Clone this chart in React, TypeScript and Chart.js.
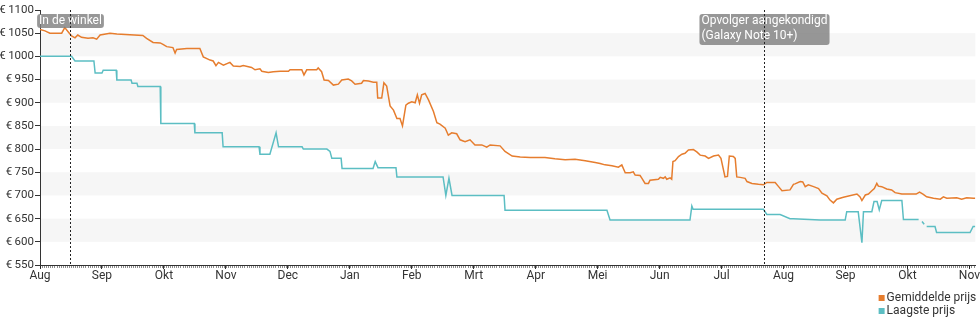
import { useEffect, useRef } from 'react';
import { Chart, registerables } from 'chart.js';

Chart.register(...registerables);

// x = months since 1 Aug 2018 (each month is an equal step on the axis)
const monthLabels = ['Aug', 'Sep', 'Okt', 'Nov', 'Dec', 'Jan', 'Feb', 'Mrt', 'Apr', 'Mei', 'Jun', 'Jul', 'Aug', 'Sep', 'Okt', 'Nov'];
const xMin = 0;
const xMax = 15.095;
const yMin = 550;
const yMax = 1100;
const yStep = 50;

const seriesNames = ['Gemiddelde prijs', 'Laagste prijs'];
const seriesColors = ['#e67d2e', '#5cbec3'];

const averagePrice: [number, number | null][] = [
  [0, 1058], [0.08, 1055], [0.16, 1050], [0.35, 1050], [0.4, 1062], [0.46, 1052], [0.51, 1044], [0.565, 1040],
  [0.61, 1046], [0.67, 1041], [0.775, 1039], [0.855, 1040], [0.915, 1037], [0.97, 1046], [1.13, 1050], [1.24, 1048],
  [1.66, 1045], [1.72, 1039], [1.825, 1030], [1.94, 1029], [1.985, 1026], [2.045, 1021], [2.145, 1019], [2.18, 1007],
  [2.205, 1015], [2.37, 1017], [2.58, 1017], [2.635, 999], [2.745, 992], [2.795, 990], [2.84, 980], [2.88, 987],
  [2.96, 981], [3.065, 987], [3.12, 979], [3.23, 978], [3.28, 980], [3.415, 976], [3.47, 971], [3.55, 973],
  [3.58, 968], [3.685, 965], [3.765, 967], [3.875, 968], [4.01, 968], [4.035, 971], [4.225, 971], [4.26, 960],
  [4.305, 971], [4.465, 971], [4.49, 975], [4.545, 967], [4.585, 949], [4.655, 948], [4.735, 938], [4.815, 940],
  [4.87, 949], [4.975, 951], [5.03, 947], [5.085, 940], [5.19, 942], [5.22, 948], [5.3, 947], [5.38, 944],
  [5.435, 944], [5.45, 910], [5.515, 910], [5.55, 943], [5.595, 936], [5.65, 893], [5.705, 884], [5.76, 866],
  [5.81, 866], [5.85, 850], [5.905, 895], [5.945, 899], [6.0, 902], [6.055, 900], [6.09, 917], [6.125, 899],
  [6.16, 917], [6.215, 920], [6.27, 906], [6.35, 881], [6.405, 857], [6.455, 854], [6.54, 845], [6.59, 830],
  [6.645, 835], [6.725, 833], [6.78, 820], [6.86, 816], [6.94, 820], [7.02, 809], [7.13, 809], [7.21, 804],
  [7.265, 809], [7.425, 807], [7.505, 795], [7.62, 785], [7.75, 783], [7.91, 782], [8.15, 782], [8.31, 779],
  [8.475, 777], [8.635, 778], [8.8, 775], [8.96, 771], [9.04, 769], [9.12, 766], [9.23, 764], [9.335, 761],
  [9.39, 766], [9.445, 749], [9.525, 749], [9.575, 751], [9.605, 744], [9.685, 743], [9.715, 737], [9.765, 726],
  [9.82, 726], [9.845, 733], [9.98, 735], [10.01, 739], [10.06, 737], [10.09, 740], [10.115, 735], [10.17, 738],
  [10.195, 735], [10.215, 773], [10.25, 775], [10.305, 784], [10.36, 789], [10.41, 791], [10.465, 798], [10.545, 799],
  [10.6, 794], [10.655, 787], [10.735, 785], [10.79, 780], [10.87, 785], [10.95, 787], [10.99, 780], [11.055, 740],
  [11.095, 741], [11.125, 785], [11.19, 784], [11.22, 780], [11.245, 740], [11.3, 739], [11.38, 737], [11.41, 730],
  [11.49, 726], [11.595, 724], [11.675, 723], [11.73, 728], [11.865, 728], [11.92, 719], [11.975, 710], [12.105, 712],
  [12.16, 724], [12.185, 725], [12.27, 730], [12.31, 729], [12.35, 719], [12.4, 723], [12.485, 719], [12.565, 715],
  [12.62, 705], [12.7, 699], [12.75, 690], [12.805, 684], [12.86, 692], [12.965, 696], [13.05, 699], [13.185, 703],
  [13.235, 697], [13.265, 689], [13.32, 701], [13.37, 703], [13.425, 710], [13.465, 715], [13.505, 726], [13.53, 720],
  [13.585, 719], [13.665, 714], [13.745, 712], [13.8, 706], [13.91, 703], [14.14, 703], [14.195, 707], [14.25, 703],
  [14.31, 697], [14.42, 694], [14.53, 692], [14.58, 697], [14.635, 694], [14.795, 695], [14.875, 692], [14.955, 695],
  [15.065, 694], [15.095, 694],
];

const lowestPrice: [number, number | null][] = [
  [0, 1000], [0.51, 1000], [0.565, 990], [0.87, 990], [0.89, 964], [1.0, 964], [1.02, 970], [1.23, 970],
  [1.24, 949], [1.47, 949], [1.485, 942], [1.565, 942], [1.58, 935], [1.94, 935], [1.95, 855], [2.49, 855],
  [2.5, 835], [2.94, 835], [2.955, 805], [3.535, 805], [3.55, 789], [3.71, 789], [3.81, 835], [3.85, 805],
  [4.23, 805], [4.25, 800], [4.63, 800], [4.68, 795], [4.71, 780], [4.86, 780], [4.875, 758], [5.375, 758],
  [5.41, 773], [5.455, 760], [5.745, 760], [5.76, 740], [6.505, 740], [6.55, 700], [6.6, 737], [6.65, 700],
  [7.49, 700], [7.505, 668], [9.15, 668], [9.2, 647], [10.49, 647], [10.52, 677], [10.54, 670], [11.675, 670],
  [11.73, 659], [11.945, 659], [12.105, 650], [12.155, 650], [12.59, 647], [12.995, 647], [13.02, 665], [13.205, 665],
  [13.265, 598], [13.29, 665], [13.425, 665], [13.46, 687], [13.51, 687], [13.545, 669], [13.585, 689], [13.91, 689],
  [13.935, 648], [14.18, 648], [14.2, null], [14.235, 644], [14.27, 638], [14.29, null], [14.31, 633], [14.445, 633],
  [14.47, 620], [15.01, 620], [15.06, 633], [15.095, 633],
];

const eventPositions = [0.48, 11.68];
const eventLabels = [['In de winkel'], ['Opvolger aangekondigd', '(Galaxy Note 10+)']];

const FONT = 'Roboto, "Noto Sans", sans-serif';

const bandsPlugin = {
  id: 'bands',
  beforeDraw(chart: any) {
    const { ctx, chartArea } = chart;
    const y = chart.scales.y;
    ctx.save();
    ctx.fillStyle = '#f6f6f6';
    y.ticks.forEach((t: any) => {
      if (t.value % 100 === 0 && t.value + yStep <= y.max) {
        const top = y.getPixelForValue(t.value + yStep);
        const bot = y.getPixelForValue(t.value);
        ctx.fillRect(chartArea.left, top, chartArea.right - chartArea.left, bot - top);
      }
    });
    ctx.restore();
  },
};

const minorTicksPlugin = {
  id: 'minorTicks',
  afterDraw(chart: any) {
    const { ctx, chartArea } = chart;
    const x = chart.scales.x;
    ctx.save();
    ctx.fillStyle = 'rgba(0,0,0,0.45)';
    for (let m = 0; m <= Math.floor(xMax); m++) {
      for (let d = 0; d < 30; d++) {
        const v = m + d / 30;
        if (v > xMax) break;
        const px = Math.round(x.getPixelForValue(v));
        ctx.fillRect(px, chartArea.bottom + 1, 1, 2);
      }
    }
    ctx.restore();
  },
};

const eventsPlugin = {
  id: 'events',
  afterDatasetsDraw(chart: any) {
    const { ctx, chartArea } = chart;
    const x = chart.scales.x;
    ctx.save();
    ctx.font = `12px ${FONT}`;
    eventPositions.forEach((v, i) => {
      const px = Math.round(x.getPixelForValue(v)) + 0.5;
      const lines = eventLabels[i];
      const w = Math.max(...lines.map((l) => ctx.measureText(l).width)) + 4;
      const h = 17 * lines.length - 3;
      const bx = px - w / 2;
      const by = chartArea.top + 4;
      ctx.fillStyle = 'rgba(128,128,128,0.82)';
      ctx.beginPath();
      (ctx as any).roundRect(bx, by, w, h, 3);
      ctx.fill();
      ctx.fillStyle = '#ffffff';
      ctx.textBaseline = 'top';
      ctx.textAlign = 'left';
      lines.forEach((l, j) => ctx.fillText(l, bx + 2, by + 1 + j * 14.5));
      ctx.strokeStyle = '#222';
      ctx.lineWidth = 1;
      ctx.setLineDash([2, 2]);
      ctx.beginPath();
      ctx.moveTo(px, chartArea.top);
      ctx.lineTo(px, chartArea.bottom);
      ctx.stroke();
      ctx.setLineDash([]);
    });
    ctx.restore();
  },
};

const legendPlugin = {
  id: 'cornerLegend',
  afterDraw(chart: any) {
    const { ctx, chartArea } = chart;
    ctx.save();
    ctx.font = `12px ${FONT}`;
    const widths = seriesNames.map((n) => ctx.measureText(n).width);
    const maxW = Math.max(...widths);
    const x0 = chartArea.right + 1 - (8 + maxW);
    seriesNames.forEach((n, i) => {
      const cy = chartArea.bottom + 33 + i * 13;
      ctx.fillStyle = seriesColors[i];
      ctx.fillRect(x0, cy - 3, 6, 6);
      ctx.fillStyle = '#333';
      ctx.textBaseline = 'middle';
      ctx.textAlign = 'left';
      ctx.fillText(n, x0 + 8, cy);
    });
    ctx.restore();
  },
};

export default function App() {
  const ref = useRef<HTMLCanvasElement>(null);
  useEffect(() => {
    document.body.style.margin = '0';
    Chart.defaults.font.family = FONT;
    Chart.defaults.font.size = 12;
    Chart.defaults.color = '#333';
    const chart = new Chart(ref.current as HTMLCanvasElement, {
      type: 'line',
      data: {
        datasets: [
          {
            label: seriesNames[0],
            data: averagePrice.map(([x, y]) => ({ x, y })),
            borderColor: seriesColors[0],
            backgroundColor: seriesColors[0],
            borderWidth: 1.5,
            pointRadius: 0,
            tension: 0,
            fill: false,
            spanGaps: false,
          },
          {
            label: seriesNames[1],
            data: lowestPrice.map(([x, y]) => ({ x, y })),
            borderColor: seriesColors[1],
            backgroundColor: seriesColors[1],
            borderWidth: 1.5,
            pointRadius: 0,
            tension: 0,
            fill: false,
            spanGaps: false,
          },
        ] as any,
      },
      options: {
        animation: false,
        responsive: false,
        maintainAspectRatio: false,
        layout: { padding: { top: 10, left: 0, right: 2, bottom: 40 } },
        plugins: {
          legend: { display: false },
          tooltip: { enabled: false },
        },
        scales: {
          x: {
            type: 'linear',
            min: xMin,
            max: xMax,
            afterFit: (s: any) => { s.height = 20; },
            ticks: {
              stepSize: 1,
              includeBounds: false,
              autoSkip: false,
              maxRotation: 0,
              padding: 0,
              color: '#333',
              font: { size: 12 },
              callback: (v: any) => monthLabels[v] ?? '',
            },
            grid: { drawOnChartArea: false, drawTicks: true, tickLength: 4, color: '#333' },
            border: { display: true, color: '#333', width: 1 },
          },
          y: {
            type: 'linear',
            min: yMin,
            max: yMax,
            afterFit: (s: any) => { s.width = 40; },
            ticks: {
              stepSize: yStep,
              padding: 1,
              color: '#333',
              font: { size: 11.5 },
              callback: (v: any) => '€\u2009' + v,
            },
            grid: { drawOnChartArea: false, drawTicks: true, tickLength: 5, color: '#333' },
            border: { display: true, color: '#333', width: 1 },
          },
        } as any,
      },
      plugins: [bandsPlugin, minorTicksPlugin, eventsPlugin, legendPlugin],
    });
    return () => chart.destroy();
  }, []);
  return (
    <div style={{ width: 980, height: 325 }}>
      <canvas ref={ref} width={980} height={325} style={{ display: 'block' }} />
    </div>
  );
}
